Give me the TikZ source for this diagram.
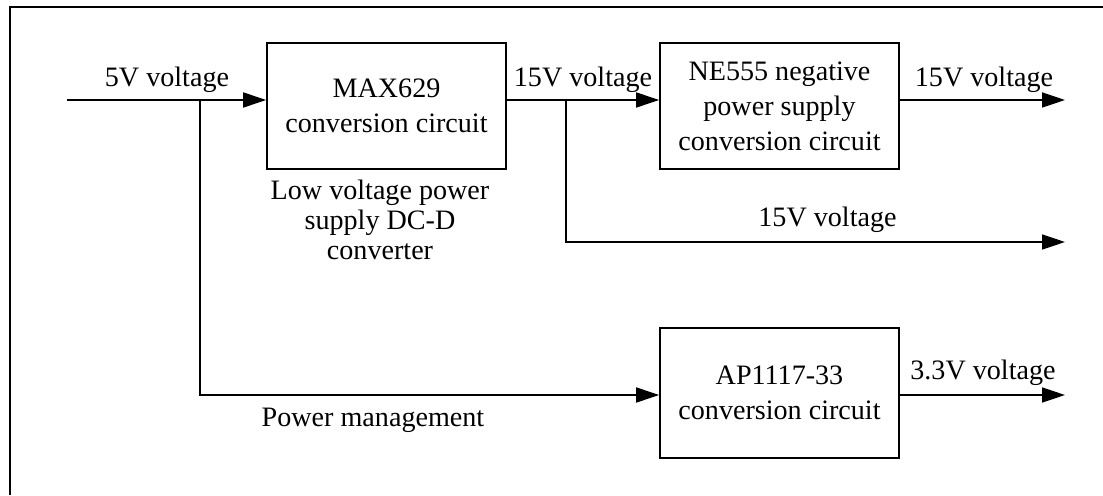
\documentclass[tikz,border=0pt]{standalone}
\usepackage{fontspec}
\setmainfont{Liberation Serif}
\usetikzlibrary{arrows.meta}

\tikzset{
  blk/.style={draw,line width=1pt,minimum width=4.78cm,minimum height=2.52cm,
    align=center,inner sep=0pt,font=\fontsize{16}{20}\selectfont},
  lbl/.style={align=center,inner sep=0pt,font=\fontsize{16}{20}\selectfont},
  arr/.style={line width=1pt,-{Triangle[length=0.46cm,width=0.3cm]}}
}

\begin{document}
\begin{tikzpicture}
  \useasboundingbox (0,0) rectangle (22.06,9.9);
  % frame
  \draw[line width=1pt] (0.2,0) -- (0.2,9.76) -- (22.06,9.76);

  % blocks
  \node[blk] (max) at (7.73,7.78) {MAX629\\conversion circuit};
  \node[blk] (ne)  at (15.59,7.78) {NE555 negative\\power supply\\conversion circuit};
  \node[blk,minimum height=2.6cm] (ap) at (15.59,2.04) {AP1117-33\\conversion circuit};

  % points on the lines
  \coordinate (in)   at (1.34,7.9);
  \coordinate (br1)  at (4.0,7.9);
  \coordinate (br2)  at (11.32,7.9);
  \coordinate (out1) at (21.3,7.9);
  \coordinate (out2) at (21.3,5.06);
  \coordinate (out3) at (21.3,2.0);

  % connectors
  \draw[arr] (in) -- (max.west |- in);
  \draw[arr] (br1) |- (ap.west |- out3);
  \draw[arr] (max.east |- in) -- (ne.west |- in);
  \draw[arr] (br2) |- (out2);
  \draw[arr] (ne.east |- in) -- (out1);
  \draw[arr] (ap.east |- out3) -- (out3);

  % labels
  \node[lbl] (l5v)  at (3.34,8.3) {5V voltage};
  \node[lbl] (l15a) at (11.66,8.3) {15V voltage};
  \node[lbl] (l15b) at (19.68,8.3) {15V voltage};
  \node[lbl] (l15c) at (16.55,5.5) {15V voltage};
  \node[lbl] (l33)  at (19.66,2.44) {3.3V voltage};
  \node[lbl] (lpm)  at (7.46,1.5) {Power management};
  \node[lbl,font=\fontsize{16}{17}\selectfont] (ldc) at (7.6,5.5)
    {Low voltage power\\supply DC-D\\converter};
\end{tikzpicture}
\end{document}
